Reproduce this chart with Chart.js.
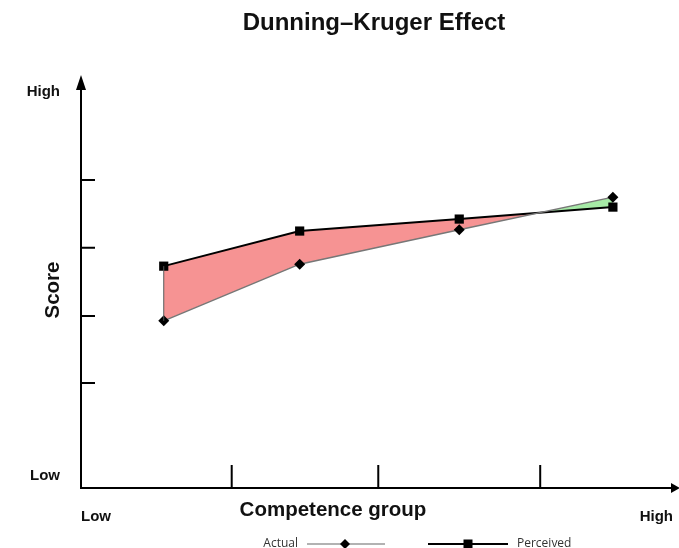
<!DOCTYPE html>
<html>
<head>
<meta charset="utf-8">
<title>Dunning–Kruger Effect</title>
<script src="https://cdn.jsdelivr.net/npm/chart.js"></script>
<style>
  body { margin: 0; background: #fff; }
  #wrap { width: 679px; height: 548px; position: relative; }
</style>
</head>
<body>
<div id="wrap"><canvas id="dk"></canvas></div>
<script>
// competence groups (x position on a 0-100 axis) and scores (0-100)
const groups = [14, 37, 64, 90];
const actual = [41.9, 56.1, 64.7, 72.9];
const perceived = [55.6, 64.4, 67.4, 70.4];
// unlabeled tick marks
const xTicks = [25.5, 50.3, 77.7];
const yTicks = [26.3, 43.1, 60.2, 77.2];

const pts = (ys) => groups.map((x, i) => ({ x: x, y: ys[i] }));

// draws the arrows, tick marks, labels and legend using the chart scales
const decor = {
  id: 'decor',
  afterDraw(chart) {
    const ctx = chart.ctx;
    const a = chart.chartArea;
    const xs = chart.scales.x, ys = chart.scales.y;
    ctx.save();

    // closing edge of the fill on the left
    ctx.beginPath();
    ctx.lineWidth = 1;
    ctx.strokeStyle = '#555';
    ctx.moveTo(xs.getPixelForValue(groups[0]), ys.getPixelForValue(actual[0]));
    ctx.lineTo(xs.getPixelForValue(groups[0]), ys.getPixelForValue(perceived[0]));
    ctx.stroke();

    // axes
    ctx.strokeStyle = '#000';
    ctx.fillStyle = '#000';
    ctx.lineWidth = 2;
    ctx.beginPath();
    ctx.moveTo(a.left, a.top);
    ctx.lineTo(a.left, a.bottom);
    ctx.lineTo(a.right, a.bottom);
    ctx.stroke();
    // arrow heads
    ctx.beginPath();
    ctx.moveTo(a.left, a.top - 14);
    ctx.lineTo(a.left - 5, a.top + 1);
    ctx.lineTo(a.left + 5, a.top + 1);
    ctx.closePath();
    ctx.fill();
    ctx.beginPath();
    ctx.moveTo(a.right + 8, a.bottom);
    ctx.lineTo(a.right - 1, a.bottom - 5);
    ctx.lineTo(a.right - 1, a.bottom + 5);
    ctx.closePath();
    ctx.fill();

    // tick marks
    ctx.beginPath();
    yTicks.forEach(v => {
      const p = ys.getPixelForValue(v);
      ctx.moveTo(a.left, p);
      ctx.lineTo(a.left + 14, p);
    });
    xTicks.forEach(v => {
      const p = xs.getPixelForValue(v);
      ctx.moveTo(p, a.bottom);
      ctx.lineTo(p, a.bottom - 23);
    });
    ctx.stroke();

    // labels
    ctx.fillStyle = '#111';
    ctx.textBaseline = 'middle';
    ctx.font = 'bold 15px "Liberation Sans", Arial, sans-serif';
    ctx.textAlign = 'right';
    ctx.fillText('High', 60, 92);
    ctx.fillText('Low', 60, 476);
    ctx.textAlign = 'left';
    ctx.fillText('Low', 81, 517);
    ctx.textAlign = 'right';
    ctx.fillText('High', 673, 517);

    ctx.textAlign = 'center';
    ctx.font = 'bold 20.5px "Liberation Sans", Arial, sans-serif';
    ctx.fillText('Competence group', 333, 510);
    ctx.save();
    ctx.translate(53, 290);
    ctx.rotate(-Math.PI / 2);
    ctx.fillText('Score', 0, 0);
    ctx.restore();

    ctx.font = 'bold 24px "Liberation Sans", Arial, sans-serif';
    ctx.fillText('Dunning\u2013Kruger Effect', 374, 23);

    // legend
    const ly = 544;
    ctx.font = '12px "Open Sans", sans-serif';
    ctx.fillStyle = '#333';
    ctx.textAlign = 'right';
    ctx.fillText(chart.data.datasets[0].label, 298, ly);
    ctx.textAlign = 'left';
    ctx.fillText(chart.data.datasets[1].label, 517, ly);

    ctx.lineWidth = 1.5;
    ctx.strokeStyle = '#999';
    ctx.beginPath();
    ctx.moveTo(307, ly); ctx.lineTo(385, ly);
    ctx.stroke();
    ctx.fillStyle = '#000';
    ctx.beginPath();
    ctx.moveTo(345, ly - 5); ctx.lineTo(350, ly); ctx.lineTo(345, ly + 5); ctx.lineTo(340, ly);
    ctx.closePath();
    ctx.fill();

    ctx.lineWidth = 2;
    ctx.strokeStyle = '#000';
    ctx.beginPath();
    ctx.moveTo(428, ly); ctx.lineTo(508, ly);
    ctx.stroke();
    ctx.fillRect(463.5, ly - 4.5, 9, 9);
    ctx.restore();
  }
};

new Chart(document.getElementById('dk'), {
  type: 'line',
  data: {
    datasets: [
      {
        label: 'Actual',
        data: pts(actual),
        borderColor: '#777',
        borderWidth: 1.5,
        pointStyle: 'rectRot',
        pointRadius: 5.5,
        pointBackgroundColor: '#000',
        pointBorderColor: '#000',
        pointBorderWidth: 0,
        fill: false,
        tension: 0
      },
      {
        label: 'Perceived',
        data: pts(perceived),
        borderColor: '#000',
        borderWidth: 2,
        pointStyle: 'rect',
        pointRadius: 6.5,
        pointBackgroundColor: '#000',
        pointBorderColor: '#000',
        pointBorderWidth: 0,
        fill: { target: 0, above: 'rgba(245,128,128,0.85)', below: 'rgba(150,230,150,0.85)' },
        tension: 0
      }
    ]
  },
  options: {
    responsive: true,
    maintainAspectRatio: false,
    animation: false,
    layout: { padding: { left: 81, right: 7, top: 89, bottom: 60 } },
    scales: {
      x: { type: 'linear', min: 0, max: 100, display: false },
      y: { type: 'linear', min: 0, max: 100, display: false }
    },
    plugins: {
      legend: { display: false },
      title: { display: false },
      tooltip: { enabled: false }
    }
  },
  plugins: [decor]
});
</script>
</body>
</html>
